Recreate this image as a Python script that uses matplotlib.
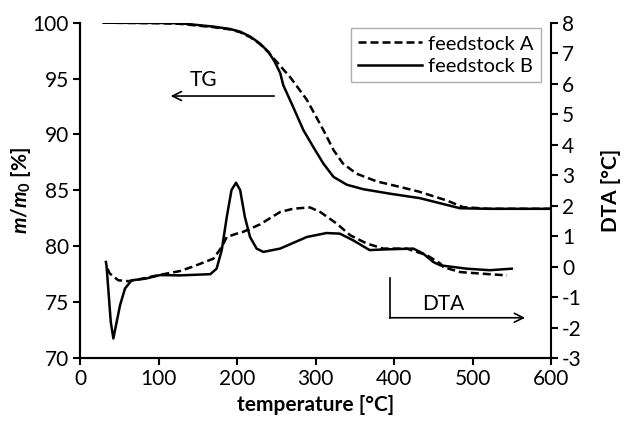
import matplotlib.pyplot as plt
import numpy as np

plt.rcParams['font.family'] = ['Lato', 'DejaVu Sans']
plt.rcParams['mathtext.fontset'] = 'custom'
plt.rcParams['mathtext.it'] = 'Lato:italic:bold'
plt.rcParams['mathtext.rm'] = 'Lato:bold'
plt.rcParams['axes.unicode_minus'] = False

#TG curves (left axis, m/m0 in %)
tg_a_T = [30, 100, 127, 170, 191, 204, 217, 229, 240, 248, 258, 268, 289, 310, 323, 335, 352,
          378, 408, 431, 467, 488, 520, 600]
tg_a_v = [100, 99.95, 99.9, 99.6, 99.4, 99.15, 98.7, 98.1, 97.35, 96.7, 95.9, 95.1, 93.1, 90.4,
          88.6, 87.4, 86.5, 85.8, 85.3, 84.9, 84.1, 83.5, 83.35, 83.35]
tg_b_T = [30, 100, 127, 170, 191, 204, 217, 229, 240, 248, 255, 259, 270, 284.5, 297, 310, 323,
          340, 361, 395, 433, 484, 520, 600]
tg_b_v = [100, 99.98, 99.95, 99.65, 99.44, 99.2, 98.75, 98.15, 97.4, 96.5, 95.5, 94.4, 92.7,
          90.4, 88.9, 87.4, 86.2, 85.5, 85.1, 84.7, 84.3, 83.4, 83.35, 83.35]

#DTA curves (right axis, in degC)
dta_a_T = [35, 38, 48.8, 61.5, 75, 100, 127, 144, 170, 180.5, 187, 199.6, 208, 229, 255, 272,
           293, 306, 327, 344, 365, 386, 416, 442, 459, 463, 484, 510, 544]
dta_a_v = [-0.07, -0.23, -0.45, -0.48, -0.42, -0.28, -0.15, 0.0, 0.26, 0.64, 0.97, 1.08, 1.14,
           1.38, 1.79, 1.9, 1.94, 1.79, 1.41, 1.03, 0.76, 0.59, 0.59, 0.37, 0.1, -0.02, -0.18,
           -0.23, -0.29]
dta_b_T = [33, 33.7, 36, 39.2, 42.5, 46.7, 51, 57.3, 65.8, 83, 102, 127, 166, 174, 180.5, 187,
           193, 198.7, 204, 210, 216.6, 225, 233.5, 255, 289, 314, 331, 348, 369, 386, 424.5,
           437, 450, 459, 492.6, 522, 550]
dta_b_v = [0.15, 0.04, -0.72, -1.82, -2.36, -1.82, -1.27, -0.72, -0.45, -0.4, -0.28, -0.29,
           -0.25, -0.07, 0.53, 1.63, 2.51, 2.75, 2.51, 1.63, 0.97, 0.59, 0.48, 0.59, 0.97, 1.1,
           1.08, 0.86, 0.54, 0.56, 0.59, 0.43, 0.15, 0.04, -0.07, -0.12, -0.07]

labels = ['feedstock A', 'feedstock B']
dash = (0, (3.2, 1.6))
lw = 1.8

fig = plt.figure(figsize=(6.26, 4.22), dpi=100)
ax = fig.add_axes([80/626, 1 - 358/422, 471/626, 335.3/422])
ax2 = ax.twinx()

la, = ax.plot(tg_a_T, tg_a_v, color='black', lw=lw, linestyle=dash)
lb, = ax.plot(tg_b_T, tg_b_v, color='black', lw=lw)
ax2.plot(dta_a_T, dta_a_v, color='black', lw=lw, linestyle=dash)
ax2.plot(dta_b_T, dta_b_v, color='black', lw=lw)

ax.set_xlim(0, 600)
ax.set_ylim(70, 100)
ax2.set_ylim(-3, 8)
ax.set_xticks(np.arange(0, 601, 100))
ax.set_yticks(np.arange(70, 101, 5))
ax2.set_yticks(np.arange(-3, 9, 1))

for a in (ax, ax2):
    a.spines['top'].set_visible(False)
    for s in a.spines.values():
        s.set_linewidth(1.5)
    a.tick_params(direction='out', length=5, width=1.5, labelsize=15, pad=3)
ax.spines['right'].set_visible(False)

ax.set_xlabel('temperature [°C]', fontsize=15, fontweight='bold', labelpad=4)
ax.set_ylabel(r'$m/m_0$ [%]', fontsize=15, fontweight='bold', labelpad=0)
ax2.set_ylabel('DTA [°C]', fontsize=15, fontweight='bold', rotation=90, labelpad=14)

#annotations
ax.annotate('', xy=(112, 93.44), xytext=(251, 93.44),
            arrowprops=dict(arrowstyle='->', lw=1.2, color='black', mutation_scale=16))
ax.text(157, 94.9, 'TG', fontsize=15, ha='center', va='center')
ax2.plot([395, 395], [-0.39, -1.68], color='black', lw=1.2)
ax2.annotate('', xy=(567, -1.68), xytext=(394.5, -1.68),
             arrowprops=dict(arrowstyle='->', lw=1.2, color='black', mutation_scale=16,
                             shrinkA=0, shrinkB=0))
ax2.text(463, -1.22, 'DTA', fontsize=15, ha='center', va='center')

leg = ax2.legend([la, lb], labels, loc='upper right', bbox_to_anchor=(0.978, 0.983),
                 borderaxespad=0, fancybox=False, fontsize=14.5, handlelength=3.2,
                 labelspacing=0.25, handletextpad=0.3, borderpad=0.35)
leg.get_frame().set_edgecolor('#999999')
leg.get_frame().set_linewidth(1.0)

fig.savefig('out.png', dpi=100)
